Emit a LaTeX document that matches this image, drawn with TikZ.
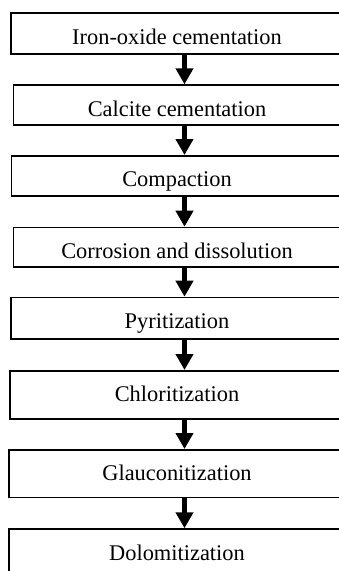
\documentclass[tikz,border=0pt]{standalone}
\usepackage{fontspec}
\setmainfont{Liberation Serif}
\usetikzlibrary{arrows.meta}
\begin{document}
\begin{tikzpicture}[x=1pt,y=-1pt,
  stagebox/.style={draw=black, line width=1.5pt, anchor=north, inner sep=0pt,
    text height=31pt, font=\fontsize{22.4}{26}\selectfont},
  flowarrow/.style={line width=4.8pt, -{Triangle[width=17pt,length=16pt]}}]
\useasboundingbox (0,0) rectangle (339,571);
\clip (0,0) rectangle (339,571);
\coordinate (ax) at (184.5,0);
\node[stagebox, minimum width=332pt, text depth=10pt] (b1) at (177,12.3) {Iron-oxide cementation};
\node[stagebox, minimum width=327.4pt, text depth=8.7pt] (b2) at (177,84.3) {Calcite cementation};
\node[stagebox, minimum width=330.6pt, text depth=9pt] (b3) at (177,155) {Compaction};
\node[stagebox, minimum width=327.4pt, text depth=8.3pt] (b4) at (177,226.7) {Corrosion and dissolution};
\node[stagebox, minimum width=332pt, text depth=10.6pt] (b5) at (177,296.7) {Pyritization};
\node[stagebox, minimum width=334pt, text depth=17.3pt] (b6) at (177,370) {Chloritization};
\node[stagebox, minimum width=336pt, text depth=16.7pt] (b7) at (177,449) {Glauconitization};
\node[stagebox, minimum width=336pt, text depth=17pt] (b8) at (177,528.3) {Dolomitization};
\foreach \a/\b in {b1/b2,b2/b3,b3/b4,b4/b5,b5/b6,b6/b7,b7/b8}
  \draw[flowarrow] (\a.south -| ax) -- (\b.north -| ax);
\end{tikzpicture}
\end{document}
